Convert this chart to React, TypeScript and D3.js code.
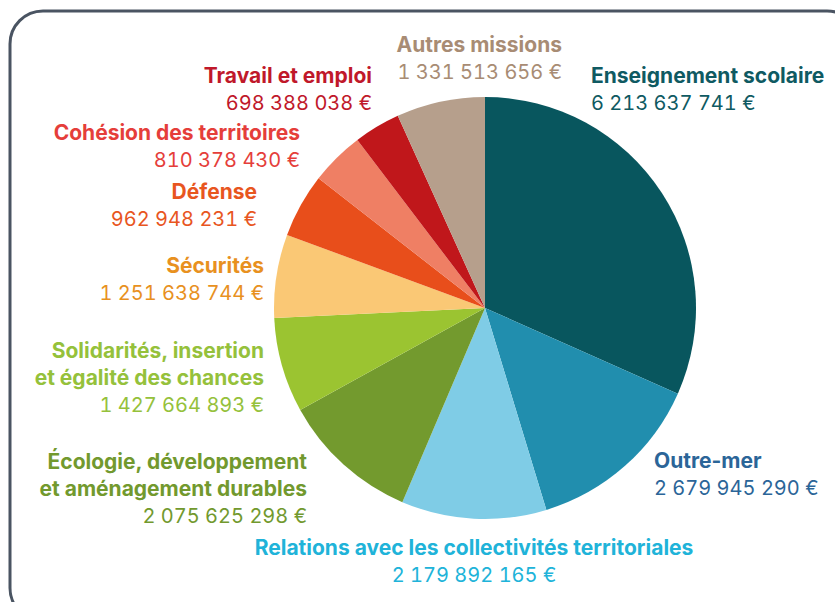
import React from 'react'
import * as d3 from 'd3'

// budget missions, clockwise from 12 o'clock
const categories = [
  ['Enseignement scolaire'],
  ['Outre-mer'],
  ['Relations avec les collectivités territoriales'],
  ['Écologie, développement', 'et aménagement durables'],
  ['Solidarités, insertion', 'et égalité des chances'],
  ['Sécurités'],
  ['Défense'],
  ['Cohésion des territoires'],
  ['Travail et emploi'],
  ['Autres missions'],
]
const amounts = [
  6213637741, 2679945290, 2179892165, 2075625298, 1427664893,
  1251638744, 962948231, 810378430, 698388038, 1331513656,
]
const sliceColors = [
  '#08565e', '#218eae', '#7fcce6', '#739a2e', '#9bc431',
  '#fac875', '#e84e1b', '#ef7f64', '#c0171b', '#b69f8c',
]
const labelColors = [
  '#0f5a62', '#2b6598', '#20b3d9', '#72992e', '#95c13b',
  '#e8911f', '#e8561f', '#e53e3a', '#c0182a', '#a88c74',
]

// where each label sits (anchor, x, baseline of first line)
const labelLayout: [string, number, number][] = [
  ['start', 591, 83],
  ['start', 654, 468],
  ['middle', 474, 555],
  ['end', 307, 469],
  ['end', 264, 358],
  ['end', 264, 273],
  ['end', 257, 199],
  ['end', 300, 140],
  ['end', 372, 83],
  ['end', 562, 52],
]

const W = 835
const H = 602
const cx = 485
const cy = 308
const radius = 211
const lineH = 27

const fmt = (v: number) => d3.format(',')(v).replace(/,/g, ' ') + ' €'

export default function App() {
  const pie = d3.pie<number>().sort(null).value(d => d)
  const arcs = pie(amounts)
  const arc = d3.arc<d3.PieArcDatum<number>>().innerRadius(0).outerRadius(radius)

  return (
    <svg width={W} height={H} style={{position: 'absolute', left: 0, top: 0}}
      fontFamily="Inter, Lato, sans-serif" fontSize={21}>
      <rect x={10} y={11} width={850} height={610} rx={33} ry={33}
        fill="#fff" stroke="#4a5462" strokeWidth={3} />
      <g transform={`translate(${cx},${cy})`}>
        {arcs.map((a, i) => (
          <path key={i} d={arc(a) || ''} fill={sliceColors[i]} />
        ))}
      </g>
      {categories.map((lines, i) => {
        const [anchor, x, y] = labelLayout[i]
        return (
          <text key={i} textAnchor={anchor} fill={labelColors[i]}>
            {lines.map((l, j) => (
              <tspan key={j} x={x} y={y + j * lineH} fontWeight={700}>{l}</tspan>
            ))}
            <tspan x={x} y={y + lines.length * lineH} fontWeight={400} fontSize={20}
              style={{fontVariantNumeric: 'tabular-nums'}}>{fmt(amounts[i])}</tspan>
          </text>
        )
      })}
    </svg>
  )
}
